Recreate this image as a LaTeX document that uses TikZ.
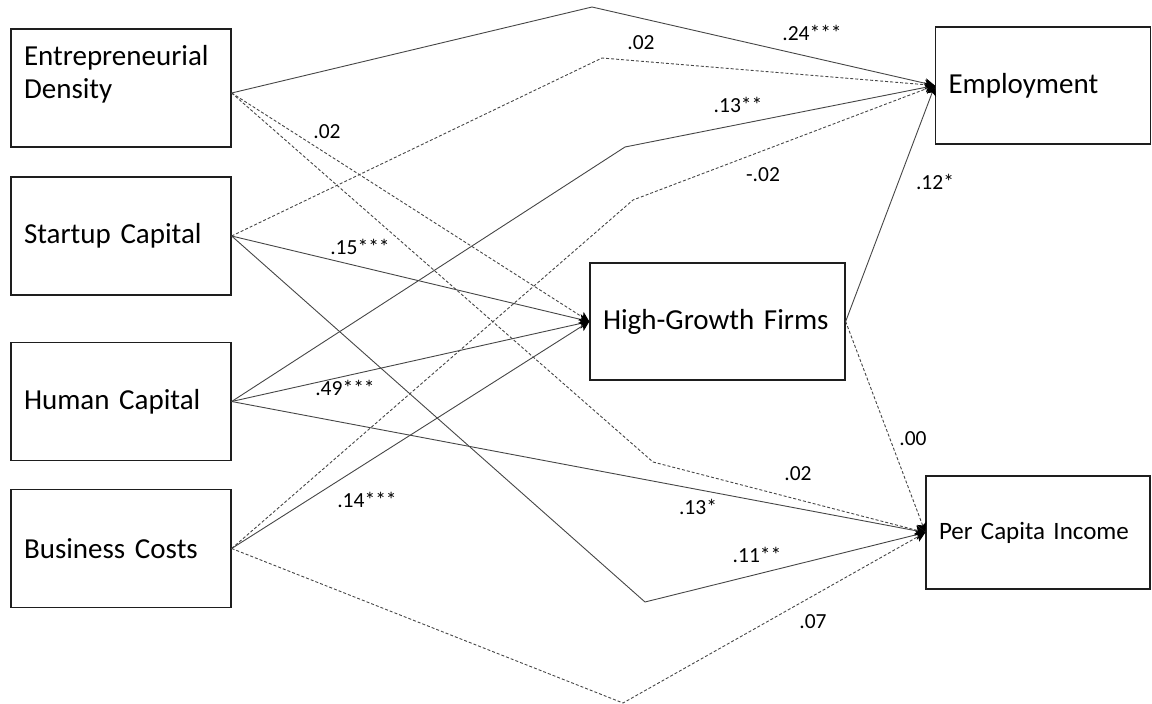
\documentclass[tikz,border=0pt]{standalone}
\usepackage{fontspec}
\setmainfont{Carlito}
\usetikzlibrary{arrows.meta}
\definecolor{mydark}{RGB}{30, 30, 30}
\definecolor{mygrey}{RGB}{70, 70, 70}
\tikzset{
    varbox/.style={draw=mydark, line width=1.3pt, align=left, inner xsep=13pt,
        minimum height=118pt, font=\fontsize{29}{33}\selectfont},
    effect/.style={mygrey, line width=0.9pt, -{Stealth[length=10pt, width=10pt, inset=2.5pt, color=black]}},
    weak/.style={effect, dash pattern=on 3pt off 2pt},
    coef/.style={inner sep=0pt, font=\fontsize{21.5}{24}\selectfont}
}

\begin{document}
\begin{tikzpicture}[x=1pt, y=-1pt]
    % Fixed frame, same size as the original figure
    \useasboundingbox (0, 0) rectangle (1152, 704);

    % ----------------------------------------------------
    % Predictors (left column)
    % ----------------------------------------------------
    \node[varbox, text width=194pt] (ed) at (121, 88) {Entrepreneurial\\Density\\\mbox{}};
    \node[varbox, text width=194pt] (sc) at (121, 236) {Startup Capital};
    \node[varbox, text width=194pt] (hc) at (121, 401.5) {Human Capital};
    \node[varbox, text width=194pt] (bc) at (121, 548.5) {Business Costs};

    % ----------------------------------------------------
    % Mediator and outcomes
    % ----------------------------------------------------
    \node[varbox, text width=229pt, minimum height=117pt] (hgf) at (717.5, 321.5) {High-Growth Firms};
    \node[varbox, text width=189pt, minimum height=117pt] (emp) at (1043, 85.5) {Employment};
    \node[varbox, text width=198pt, minimum height=113pt, font=\fontsize{25}{30}\selectfont] (pci) at (1038, 532.5) {Per Capita Income};

    \coordinate (ed-out) at ([yshift=-5pt]ed.east);

    % ----------------------------------------------------
    % Paths (solid = significant, dashed = not significant)
    % ----------------------------------------------------
    % 1. Entrepreneurial Density
    \draw[effect] (ed-out) -- (592, 7) -- (emp.west);
    \draw[weak] (ed-out) -- (hgf.west);
    \draw[weak] (ed-out) -- (653, 462) -- (pci.west);

    % 2. Startup Capital
    \draw[weak] (sc.east) -- (602, 58) -- (emp.west);
    \draw[effect] (sc.east) -- (hgf.west);
    \draw[effect] (sc.east) -- (645, 602) -- (pci.west);

    % 3. Human Capital
    \draw[effect] (hc.east) -- (625, 147) -- (emp.west);
    \draw[effect] (hc.east) -- (hgf.west);
    \draw[effect] (hc.east) -- (pci.west);

    % 4. Business Costs
    \draw[weak] (bc.east) -- (633, 200) -- (emp.west);
    \draw[effect] (bc.east) -- (hgf.west);
    \draw[weak] (bc.east) -- (623, 703) -- (pci.west);

    % 5. High-Growth Firms to outcomes
    \draw[effect] (hgf.east) -- (emp.west);
    \draw[weak] (hgf.east) -- (pci.west);

    % ----------------------------------------------------
    % Coefficients
    % ----------------------------------------------------
    \node[coef] (b-ed-emp) at (812, 33) {.24***};
    \node[coef] (b-ed-hgf) at (327, 132) {.02};
    \node[coef] (b-ed-pci) at (798, 474) {.02};
    \node[coef] (b-sc-emp) at (641, 43) {.02};
    \node[coef] (b-sc-hgf) at (360, 247) {.15***};
    \node[coef] (b-sc-pci) at (757, 555) {.11**};
    \node[coef] (b-hc-emp) at (738, 105) {.13**};
    \node[coef] (b-hc-hgf) at (345, 388) {.49***};
    \node[coef] (b-hc-pci) at (698, 507) {.13*};
    \node[coef] (b-bc-emp) at (763, 175) {-.02};
    \node[coef] (b-bc-hgf) at (367, 500) {.14***};
    \node[coef] (b-bc-pci) at (813, 622) {.07};
    \node[coef] (b-hgf-emp) at (935, 182) {.12*};
    \node[coef] (b-hgf-pci) at (913, 439) {.00};

\end{tikzpicture}
\end{document}
